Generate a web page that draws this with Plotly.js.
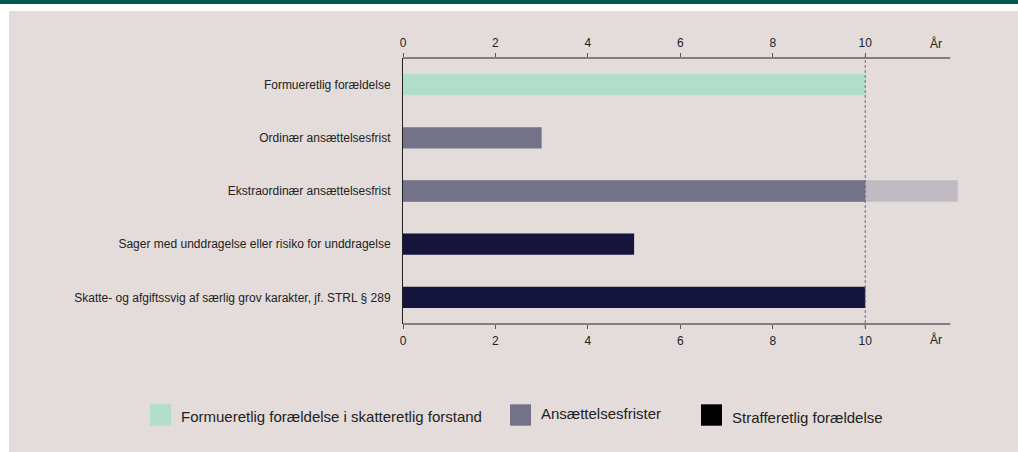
<!DOCTYPE html>
<html>
<head>
<meta charset="utf-8">
<script src="https://cdn.plot.ly/plotly-3.0.1.min.js"></script>
<style>
  html, body { margin: 0; padding: 0; background: #ffffff; }
  #topbar { position: absolute; left: 0; top: 0; width: 1018px; height: 4px; background: #005a50; }
  #panel { position: absolute; left: 9px; top: 11px; width: 1009px; height: 441px; background: #e3dcda; }
  #chart { position: absolute; left: 0; top: 0; width: 1018px; height: 452px; }
</style>
</head>
<body>
<div id="topbar"></div>
<div id="panel"></div>
<div id="chart"></div>
<script>
// ---- data ----
const categories = [
  "Formueretlig forældelse",
  "Ordinær ansættelsesfrist",
  "Ekstraordinær ansættelsesfrist",
  "Sager med unddragelse eller risiko for unddragelse",
  "Skatte- og afgiftssvig af særlig grov karakter, jf. STRL § 289"
];
const formueretligYears     = [10, null, null, null, null];
const ansaettelseYears      = [null, 3, 10, null, null];
const ansaettelseMaxYears   = [null, null, 12, null, null];
const strafferetligYears    = [null, null, null, 5, 10];
const xTickValues = [0, 2, 4, 6, 8, 10];
const xTickLabels = ["0", "2", "4", "6", "8", "10"];
const unitLabel = "År";
const referenceYear = 10;
const legendLabels = [
  "Formueretlig forældelse i skatteretlig forstand",
  "Ansættelsesfrister",
  "Strafferetlig forældelse"
];

// ---- style ----
const FONT = "Liberation Sans, Arial, sans-serif";
const TXT = "#222222";
const cGreen = "#b2dccb", cAns = "#737289", cAnsLight = "#c0bbc3", cNavy = "#14143c", cBlack = "#000000";
const legendColors = [cGreen, cAns, cBlack];

const W = 1018, H = 452;
const L = 403, R = 58, T = 58, B = 128;
const PW = W - L - R, PH = H - T - B;
const px = x => (x - L) / PW;          // pixel -> paper x
const py = y => (H - B - y) / PH;      // pixel -> paper y
const axisEndYears = 11.84;

const barW = 0.4;
const traces = [
  { type: "bar", orientation: "h", y: categories, x: ansaettelseMaxYears, marker: { color: cAnsLight, line: { width: 0 } }, width: barW, showlegend: false, hoverinfo: "skip" },
  { type: "bar", orientation: "h", y: categories, x: formueretligYears, marker: { color: cGreen, line: { width: 0 } }, width: barW, showlegend: false },
  { type: "bar", orientation: "h", y: categories, x: ansaettelseYears, marker: { color: cAns, line: { width: 0 } }, width: barW, showlegend: false },
  { type: "bar", orientation: "h", y: categories, x: strafferetligYears, marker: { color: cNavy, line: { width: 0 } }, width: barW, showlegend: false },
  // invisible trace to activate the top axis
  { type: "scatter", mode: "markers", x: [0], y: [categories[0]], xaxis: "x2", marker: { opacity: 0 }, showlegend: false, hoverinfo: "skip" }
];

const shapes = [
  // top & bottom axis lines
  { type: "line", xref: "x", yref: "paper", x0: 0, x1: axisEndYears, y0: 1, y1: 1, line: { color: TXT, width: 1 } },
  { type: "line", xref: "x", yref: "paper", x0: 0, x1: axisEndYears, y0: 0, y1: 0, line: { color: TXT, width: 1 } },
  // dashed reference line at 10 years
  { type: "line", xref: "x", yref: "paper", x0: referenceYear, x1: referenceYear, y0: py(328), y1: py(53), line: { color: "#6c6c84", width: 1, dash: "3px,2px" }, layer: "above" }
];
const annotations = [
  { xref: "x", yref: "paper", x: 11.54, y: py(43.5), yanchor: "middle", text: unitLabel, showarrow: false, font: { family: FONT, size: 12, color: TXT } },
  { xref: "x", yref: "paper", x: 11.54, y: py(339), yanchor: "middle", text: unitLabel, showarrow: false, font: { family: FONT, size: 12, color: TXT } }
];

// legend (squares + labels)
const legendSquareX = [150, 510, 701];
const legendTextY = [416.5, 413.3, 417.3];
legendLabels.forEach((lab, i) => {
  shapes.push({ type: "rect", xref: "paper", yref: "paper", x0: px(legendSquareX[i]), x1: px(legendSquareX[i] + 21), y0: py(425.7), y1: py(404.3), fillcolor: legendColors[i], line: { width: 0 } });
  annotations.push({ xref: "paper", yref: "paper", x: px(legendSquareX[i] + 29), y: py(legendTextY[i]), xanchor: "left", yanchor: "middle", text: lab, showarrow: false, font: { family: FONT, size: 15, color: TXT } });
});

const axisCommon = {
  range: [0, 12.05], tickmode: "array", tickvals: xTickValues, ticktext: xTickLabels,
  ticks: "outside", ticklen: 4, tickcolor: "#555555", tickwidth: 1,
  showgrid: false, zeroline: false, showline: false,
  tickfont: { family: FONT, size: 12, color: TXT }, fixedrange: true
};

const layout = {
  width: W, height: H,
  margin: { l: L, r: R, t: T, b: B, pad: 0 },
  paper_bgcolor: "rgba(0,0,0,0)", plot_bgcolor: "rgba(0,0,0,0)",
  barmode: "overlay",
  showlegend: false,
  font: { family: FONT, color: TXT },
  xaxis: Object.assign({}, axisCommon, { side: "bottom", ticklabelstandoff: 2 }),
  xaxis2: Object.assign({}, axisCommon, { side: "top", overlaying: "x", matches: "x", ticklabelstandoff: 1 }),
  yaxis: {
    type: "category", categoryorder: "array", categoryarray: categories,
    range: [4.5, -0.5], showgrid: false, zeroline: false,
    showline: true, linecolor: TXT, linewidth: 1,
    ticks: "", ticklabelstandoff: 9,
    tickfont: { family: FONT, size: 12, color: TXT }, fixedrange: true
  },
  shapes: shapes,
  annotations: annotations
};

Plotly.newPlot("chart", traces, layout, { displayModeBar: false, staticPlot: true });
</script>
</body>
</html>
